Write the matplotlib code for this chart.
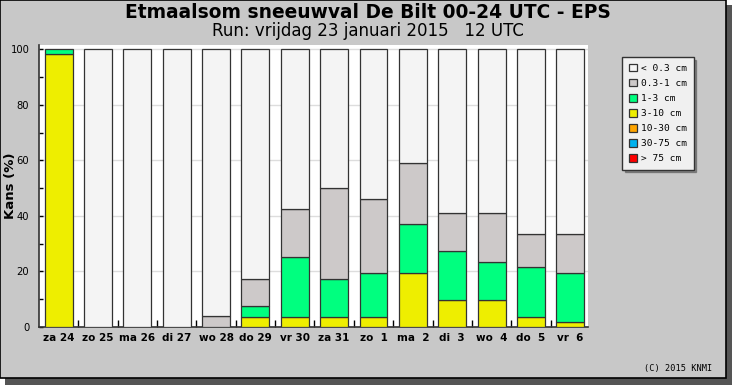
#!/usr/bin/env python3
"""Etmaalsom sneeuwval De Bilt - EPS kansen per klasse."""

import matplotlib
matplotlib.use("Agg")
import matplotlib.pyplot as plt
from matplotlib.patches import Patch, Rectangle
import numpy as np

days = ["za 24", "zo 25", "ma 26", "di 27", "wo 28", "do 29", "vr 30",
        "za 31", "zo  1", "ma  2", "di  3", "wo  4", "do  5", "vr  6"]

# kans (%) per klasse, van boven naar beneden gestapeld: 3-10, 1-3, 0.3-1
p_3_10 = [98.4, 0, 0, 0, 0, 3.7, 3.7, 3.7, 3.7, 19.5, 9.6, 9.6, 3.7, 1.9]
p_1_3 = [1.6, 0, 0, 0, 0, 3.8, 21.4, 13.5, 15.6, 17.7, 17.9, 13.8, 17.9, 17.6]
p_03_1 = [0, 0, 0, 0, 3.8, 9.7, 17.3, 32.8, 26.9, 21.8, 13.5, 17.6, 11.8, 13.9]

classes = ["< 0.3 cm", "0.3-1 cm", "1-3 cm", "3-10 cm",
           "10-30 cm", "30-75 cm", "> 75 cm"]
colors = ["#f4f4f4", "#cdc9c9", "#00ff7f", "#eeee00",
          "#ffa500", "#00b2ee", "#ff0000"]

W, H = 732, 385
fig = plt.figure(figsize=(W / 100, H / 100), dpi=100)
fig.patch.set_facecolor("white")

# frame with drop shadow
fig.patches.append(Rectangle((5 / W, 0), 1 - 5 / W, 1 - 5 / H,
                             transform=fig.transFigure, facecolor="#555555",
                             edgecolor="none", zorder=-3))
fig.patches.append(Rectangle((0, 7 / H), 726 / W, 1 - 7 / H,
                             transform=fig.transFigure, facecolor="#c8c8c8",
                             edgecolor="black", linewidth=1.2, zorder=-2))

ax = fig.add_axes([39 / W, (H - 327) / H, (588 - 39) / W, (327 - 45) / H])
ax.set_facecolor("white")

x = np.arange(len(days))
y1 = np.array(p_3_10)
y2 = np.array(p_1_3)
y3 = np.array(p_03_1)
y0 = 100 - y1 - y2 - y3

kw = dict(width=0.71, edgecolor="#333333", linewidth=0.9, zorder=3)
bottom = np.zeros(len(days))
for vals, col in [(y1, colors[3]), (y2, colors[2]), (y3, colors[1]), (y0, colors[0])]:
    m = vals > 0
    ax.bar(x[m], vals[m], bottom=bottom[m], color=col, **kw)
    bottom = bottom + vals

ax.set_xlim(-0.5, 13.45)
ax.set_ylim(0, 101.5)
ax.set_xticks(x)
ax.set_xticklabels(days, fontsize=7.5, fontweight="bold")
ax.set_xticks(x[:-1] + 0.5, minor=True)
ax.tick_params(axis="x", which="major", length=0, pad=4)
ax.tick_params(axis="x", which="minor", direction="in", length=5, width=1, color="black")

ax.set_yticks(range(0, 101, 20))
ax.set_yticklabels([str(v) for v in range(0, 101, 20)], fontsize=7.2)
ax.set_yticks(range(10, 100, 20), minor=True)
ax.tick_params(axis="y", which="both", direction="in", length=3, width=1, color="black", pad=7)
ax.yaxis.grid(True, color="#dddddd", linewidth=1, zorder=0)
ax.set_axisbelow(True)

for s in ["top", "right"]:
    ax.spines[s].set_visible(False)
ax.spines["left"].set_color("#333333")
ax.spines["bottom"].set_color("#333333")
ax.spines["left"].set_linewidth(1.2)
ax.spines["bottom"].set_linewidth(1.2)

ax.set_ylabel("Kans (%)", fontsize=9.5, fontweight="bold")
ax.yaxis.set_label_coords((17 - 39) / 549, 0.5)

fig.text(368 / W, 1 - 13 / H, "Etmaalsom sneeuwval De Bilt 00-24 UTC - EPS",
         ha="center", va="center", fontsize=13.4, fontweight="bold")
fig.text(368 / W, 1 - 31 / H, "Run: vrijdag 23 januari 2015   12 UTC",
         ha="center", va="center", fontsize=12)
fig.text(712 / W, 1 - 369 / H, "(C) 2015 KNMI", ha="right", va="center",
         fontsize=6.2, family="DejaVu Sans Mono")

handles = [Patch(facecolor=c, edgecolor="#333333", linewidth=0.9) for c in colors]
leg = fig.legend(handles, classes, loc="upper left",
                 bbox_to_anchor=(622 / W, 1 - 57 / H), borderaxespad=0,
                 prop={"family": "DejaVu Sans Mono", "size": 6.8},
                 handlelength=0.9, handleheight=0.9, handletextpad=0.4,
                 labelspacing=0.62, borderpad=0.7, fancybox=False, shadow=True)
leg.get_frame().set_facecolor("#f0f0f0")
leg.get_frame().set_edgecolor("#333333")
leg.get_frame().set_alpha(1)

fig.savefig("out.png", dpi=100, facecolor=fig.get_facecolor())
